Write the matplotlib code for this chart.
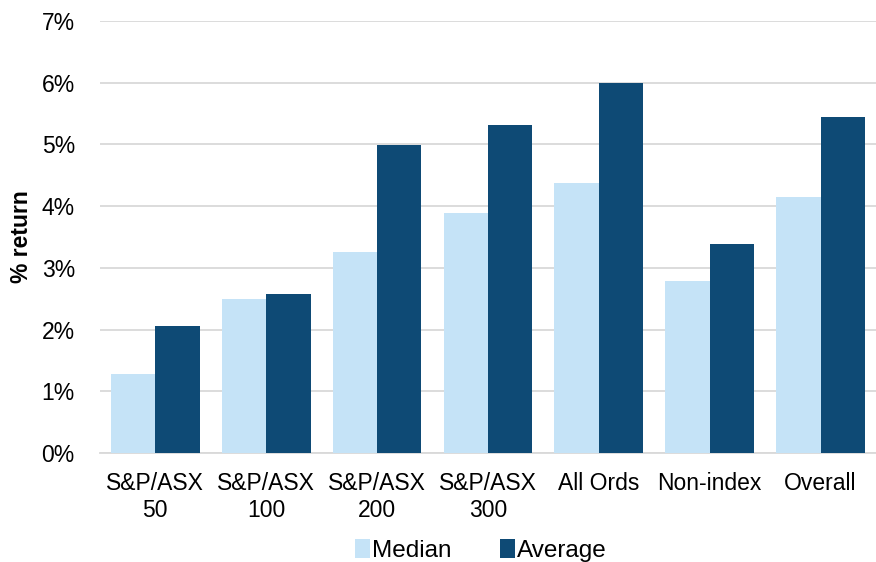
import matplotlib
matplotlib.use("Agg")
import matplotlib.pyplot as plt
import numpy as np

categories = ["S&P/ASX\n50", "S&P/ASX\n100", "S&P/ASX\n200", "S&P/ASX\n300", "All Ords", "Non-index", "Overall"]
median = [1.28, 2.50, 3.25, 3.89, 4.38, 2.79, 4.15]
average = [2.05, 2.57, 4.99, 5.31, 5.99, 3.38, 5.44]
yticks = [0, 1, 2, 3, 4, 5, 6, 7]

plt.rcParams['font.family'] = ['Liberation Sans', 'DejaVu Sans']

fig = plt.figure(figsize=(8.76, 5.62), dpi=100)
ax = fig.add_axes([0.114, 0.194, 0.886, 0.7686])

x = np.arange(len(categories))
w = 0.4
light = "#C5E3F7"
dark = "#0E4A75"
ax.bar(x - w/2, median, w, color=light, label="Median", zorder=3)
ax.bar(x + w/2, average, w, color=dark, label="Average", zorder=3)

fs = 16.5
ax.set_xlim(-0.5, len(categories) - 0.5)
ax.set_ylim(0, 7)
ax.set_yticks(yticks)
ax.set_yticklabels([f"{t}%" for t in yticks], fontsize=fs)
ax.set_xticks(x)
ax.set_xticklabels(categories, fontsize=fs, linespacing=1.2)
ax.tick_params(axis='both', length=0, colors='black')
ax.tick_params(axis='x', pad=14)
ax.tick_params(axis='y', pad=18)
ax.grid(axis='y', color='#D9D9D9', linewidth=1.3, zorder=0)
for s in ['top', 'right', 'left']:
    ax.spines[s].set_visible(False)
ax.spines['bottom'].set_color('#D9D9D9')
ax.spines['bottom'].set_linewidth(1.3)
ax.set_ylabel("% return", fontsize=fs, fontweight='bold', labelpad=6)

leg = fig.legend(loc='lower center', bbox_to_anchor=(0.549, -0.039), ncol=2, frameon=False,
                 fontsize=17.5, handlelength=0.6, handleheight=0.8, handletextpad=0.1, columnspacing=2.0)

fig.savefig("out.png", dpi=100)
